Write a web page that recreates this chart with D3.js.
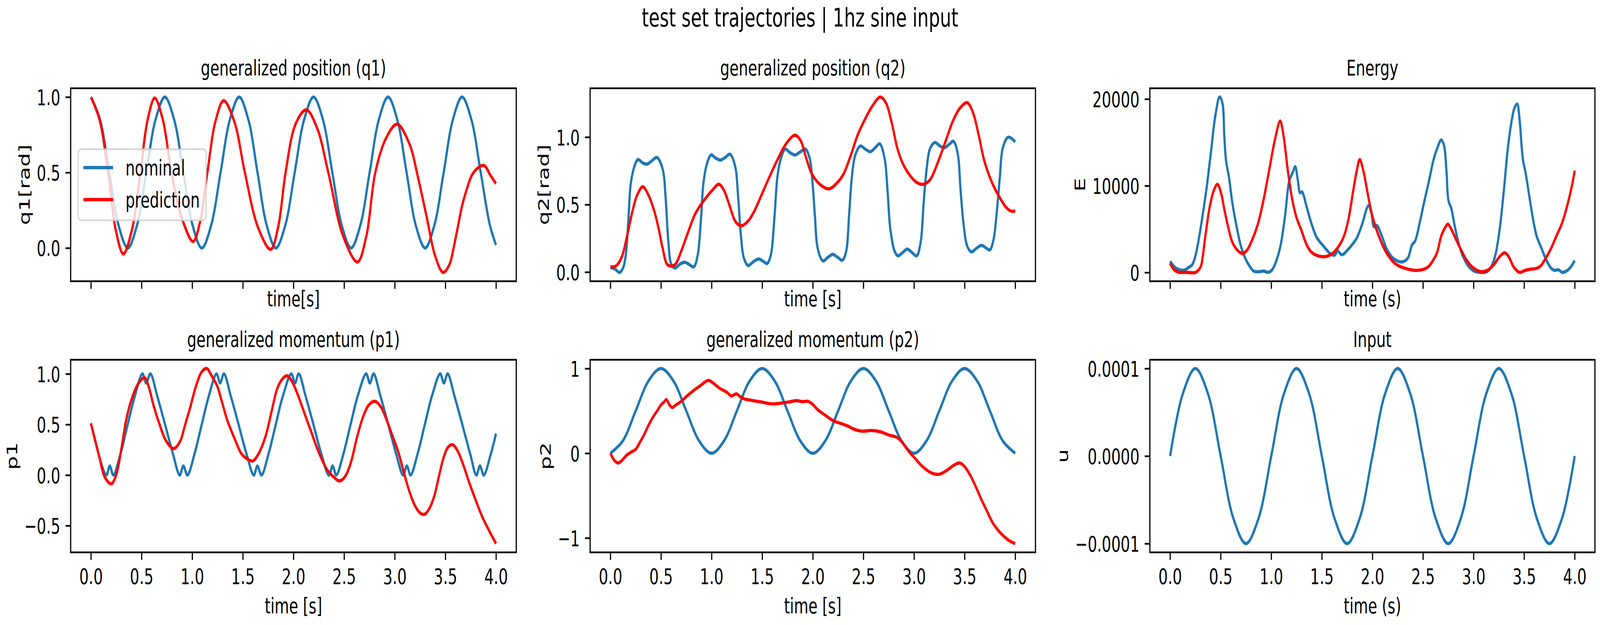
<!DOCTYPE html>
<html>
<head>
<meta charset="utf-8">
<script src="https://cdn.jsdelivr.net/npm/d3@7"></script>
<style>
  html, body { margin: 0; padding: 0; background: #fff; overflow: hidden; }
  text { font-family: "DejaVu Sans", sans-serif; }
</style>
</head>
<body>
<div id="chart"></div>
<script>
// ---- data (time [s], value) ----
const timeTicks = [0, 0.5, 1.0, 1.5, 2.0, 2.5, 3.0, 3.5, 4.0];

const q1Ticks = [0, 0.5, 1.0];
const q2Ticks = [0, 0.5, 1.0];
const eTicks = [0, 10000, 20000];
const p1Ticks = [-0.5, 0, 0.5, 1.0];
const p2Ticks = [-1, 0, 1];
const uTicks = [-0.0001, 0, 0.0001];

const q1Nominal = [[0,1.0],[0.09,0.85],[0.182,0.5],[0.273,0.15],[0.364,0.0],[0.455,0.15],[0.547,0.5],[0.638,0.85],[0.730,1.0],[0.822,0.85],[0.913,0.5],[1.004,0.15],[1.095,0.0],[1.187,0.15],[1.280,0.5],[1.372,0.85],[1.464,1.0],[1.555,0.85],[1.645,0.5],[1.736,0.15],[1.826,0.0],[1.919,0.15],[2.012,0.5],[2.105,0.85],[2.198,1.0],[2.291,0.85],[2.384,0.5],[2.477,0.15],[2.569,0.0],[2.660,0.15],[2.752,0.5],[2.843,0.85],[2.934,1.0],[3.025,0.85],[3.117,0.5],[3.208,0.15],[3.300,0.0],[3.391,0.15],[3.483,0.5],[3.574,0.85],[3.665,1.0],[3.757,0.85],[3.849,0.5],[3.940,0.15],[4.0,0.02]];

const q1Prediction = [[0,1.0],[0.085,0.85],[0.17,0.5],[0.245,0.12],[0.32,-0.039],[0.405,0.12],[0.489,0.5],[0.56,0.85],[0.63,0.993],[0.71,0.85],[0.795,0.5],[0.897,0.2],[1.009,0.043],[1.08,0.18],[1.15,0.5],[1.23,0.84],[1.31,0.976],[1.415,0.84],[1.52,0.5],[1.648,0.14],[1.776,-0.009],[1.849,0.14],[1.922,0.5],[2.02,0.82],[2.128,0.915],[2.236,0.79],[2.344,0.5],[2.49,0.08],[2.633,-0.092],[2.72,0.08],[2.808,0.5],[2.916,0.73],[3.024,0.82],[3.145,0.69],[3.229,0.47],[3.314,0.21],[3.398,-0.05],[3.477,-0.162],[3.54,-0.11],[3.581,0.0],[3.623,0.14],[3.665,0.28],[3.707,0.38],[3.76,0.48],[3.82,0.53],[3.884,0.546],[3.946,0.48],[4.0,0.427]];

const q2Nominal = [[0,0.035],[0.05,0.02],[0.09,-0.003],[0.125,0.03],[0.152,0.126],[0.18,0.415],[0.2,0.646],[0.236,0.78],[0.273,0.834],[0.318,0.81],[0.363,0.80],[0.41,0.825],[0.461,0.849],[0.517,0.762],[0.545,0.56],[0.573,0.223],[0.601,0.059],[0.638,0.03],[0.69,0.06],[0.736,0.073],[0.78,0.055],[0.826,0.04],[0.863,0.126],[0.897,0.415],[0.919,0.656],[0.953,0.80],[0.995,0.868],[1.04,0.845],[1.088,0.83],[1.135,0.85],[1.183,0.873],[1.234,0.78],[1.262,0.56],[1.29,0.27],[1.318,0.107],[1.36,0.049],[1.41,0.075],[1.464,0.097],[1.51,0.08],[1.549,0.064],[1.585,0.126],[1.622,0.415],[1.65,0.704],[1.684,0.84],[1.726,0.911],[1.775,0.885],[1.824,0.868],[1.875,0.89],[1.928,0.911],[1.97,0.84],[1.998,0.656],[2.021,0.415],[2.049,0.174],[2.1,0.083],[2.15,0.11],[2.198,0.131],[2.245,0.11],[2.293,0.088],[2.33,0.155],[2.358,0.415],[2.386,0.704],[2.42,0.868],[2.47,0.934],[2.52,0.91],[2.569,0.892],[2.615,0.92],[2.662,0.95],[2.71,0.84],[2.738,0.608],[2.766,0.319],[2.808,0.155],[2.842,0.121],[2.888,0.145],[2.934,0.17],[2.98,0.145],[3.027,0.121],[3.066,0.223],[3.095,0.512],[3.123,0.752],[3.159,0.916],[3.207,0.96],[3.255,0.935],[3.30,0.921],[3.345,0.945],[3.39,0.969],[3.432,0.878],[3.46,0.608],[3.488,0.367],[3.525,0.194],[3.567,0.15],[3.615,0.175],[3.665,0.198],[3.71,0.18],[3.75,0.165],[3.786,0.242],[3.82,0.463],[3.848,0.704],[3.876,0.916],[3.926,0.998],[3.965,0.99],[4.0,0.964]];

const q2Prediction = [[0,0.04],[0.053,0.044],[0.11,0.107],[0.166,0.271],[0.222,0.463],[0.264,0.569],[0.32,0.632],[0.377,0.569],[0.433,0.454],[0.475,0.329],[0.517,0.174],[0.559,0.059],[0.601,0.044],[0.644,0.059],[0.70,0.155],[0.77,0.30],[0.84,0.434],[0.925,0.531],[1.009,0.608],[1.071,0.651],[1.121,0.608],[1.178,0.492],[1.234,0.377],[1.29,0.343],[1.36,0.377],[1.417,0.444],[1.487,0.56],[1.571,0.704],[1.655,0.839],[1.74,0.955],[1.824,1.014],[1.88,0.974],[1.937,0.839],[1.993,0.724],[2.077,0.646],[2.161,0.617],[2.246,0.666],[2.302,0.724],[2.372,0.858],[2.442,1.013],[2.513,1.128],[2.583,1.224],[2.667,1.297],[2.723,1.253],[2.779,1.109],[2.836,0.916],[2.892,0.80],[2.962,0.714],[3.033,0.661],[3.095,0.651],[3.159,0.685],[3.229,0.80],[3.314,0.974],[3.384,1.119],[3.454,1.215],[3.525,1.255],[3.581,1.186],[3.637,1.022],[3.693,0.829],[3.764,0.675],[3.848,0.55],[3.918,0.473],[3.97,0.45],[4.0,0.454]];

const eNominal = [[0,1293],[0.053,541],[0.11,271],[0.152,316],[0.186,617],[0.216,842],[0.245,1669],[0.278,3474],[0.32,6481],[0.363,9940],[0.405,14000],[0.447,18060],[0.489,20230],[0.517,19564],[0.537,15500],[0.554,12797],[0.582,10992],[0.616,7985],[0.658,5278],[0.70,3023],[0.742,1669],[0.784,767],[0.826,165],[0.883,90],[0.925,165],[0.967,15],[1.009,316],[1.051,1368],[1.093,3173],[1.136,6481],[1.178,10541],[1.214,11594],[1.237,12195],[1.262,10692],[1.284,9188],[1.304,9300],[1.351,7533],[1.395,5729],[1.448,4073],[1.518,3022],[1.597,2045],[1.632,2045],[1.654,2496],[1.698,2045],[1.764,2720],[1.843,3924],[1.895,5427],[1.961,7700],[1.992,6780],[2.014,5278],[2.044,5427],[2.088,4375],[2.141,2720],[2.202,1669],[2.29,1218],[2.351,1669],[2.391,3171],[2.422,3622],[2.465,5578],[2.509,7984],[2.562,10690],[2.60,12800],[2.64,14300],[2.681,15278],[2.709,14602],[2.732,11744],[2.752,8286],[2.78,7383],[2.808,5729],[2.85,3474],[2.892,1970],[2.948,767],[3.005,165],[3.075,0],[3.131,90],[3.173,617],[3.215,1970],[3.258,4977],[3.30,9489],[3.336,14000],[3.37,17008],[3.404,18962],[3.432,19414],[3.454,17759],[3.477,14301],[3.491,12797],[3.513,11594],[3.542,9489],[3.583,6481],[3.623,4226],[3.674,2722],[3.722,1368],[3.769,466],[3.806,241],[3.839,316],[3.876,15],[3.918,165],[3.96,617],[4.0,1368]];

const ePrediction = [[0,1068],[0.039,316],[0.082,45],[0.166,15],[0.25,0],[0.284,316],[0.306,767],[0.349,4226],[0.391,7534],[0.433,9489],[0.469,10165],[0.503,9188],[0.537,7233],[0.573,5278],[0.616,3474],[0.672,2496],[0.714,2195],[0.756,2496],[0.812,3774],[0.868,5579],[0.925,8436],[0.981,11895],[1.037,15353],[1.088,17459],[1.121,15805],[1.164,11744],[1.206,8500],[1.248,6400],[1.299,4826],[1.351,3171],[1.404,2269],[1.509,1818],[1.597,2120],[1.667,3022],[1.72,4226],[1.764,6179],[1.807,9188],[1.843,11592],[1.875,13023],[1.913,11592],[1.957,8886],[2.0,6480],[2.053,4524],[2.132,2422],[2.22,1069],[2.307,541],[2.439,239],[2.527,465],[2.562,767],[2.60,1400],[2.639,2271],[2.681,4226],[2.724,5278],[2.746,5579],[2.774,5128],[2.822,3925],[2.878,2571],[2.934,1368],[3.005,466],[3.075,90],[3.146,316],[3.202,917],[3.258,1820],[3.308,2271],[3.347,1820],[3.398,617],[3.454,15],[3.51,241],[3.567,391],[3.623,466],[3.665,767],[3.707,1519],[3.764,2722],[3.82,4226],[3.876,5729],[3.932,7985],[3.974,10090],[4.0,11744]];

const p1Nominal = [[0,0.512],[0.05,0.31],[0.1,0.12],[0.152,0.0],[0.186,0.09],[0.222,0.0],[0.292,0.21],[0.363,0.5],[0.433,0.78],[0.509,1.0],[0.545,0.91],[0.587,1.0],[0.655,0.78],[0.732,0.5],[0.81,0.21],[0.877,0.0],[0.913,0.09],[0.953,0.0],[1.023,0.21],[1.094,0.5],[1.164,0.78],[1.24,1.0],[1.276,0.91],[1.313,1.0],[1.381,0.78],[1.458,0.5],[1.536,0.21],[1.608,0.0],[1.644,0.09],[1.684,0.0],[1.754,0.21],[1.825,0.5],[1.895,0.78],[1.979,1.0],[2.015,0.91],[2.052,1.0],[2.12,0.78],[2.197,0.5],[2.275,0.21],[2.35,0.0],[2.386,0.09],[2.423,0.0],[2.493,0.21],[2.564,0.5],[2.634,0.78],[2.718,1.0],[2.754,0.91],[2.791,1.0],[2.859,0.78],[2.936,0.5],[3.014,0.21],[3.083,0.0],[3.12,0.09],[3.156,0.0],[3.226,0.21],[3.297,0.5],[3.367,0.78],[3.449,1.0],[3.485,0.91],[3.522,1.0],[3.59,0.78],[3.667,0.5],[3.745,0.21],[3.806,0.0],[3.842,0.09],[3.879,0.0],[3.949,0.21],[4.0,0.41]];

const p1Prediction = [[0,0.512],[0.04,0.35],[0.082,0.184],[0.138,-0.022],[0.202,-0.086],[0.25,0.004],[0.301,0.261],[0.349,0.55],[0.405,0.76],[0.475,0.916],[0.531,0.961],[0.573,0.865],[0.616,0.698],[0.672,0.518],[0.742,0.338],[0.818,0.261],[0.883,0.338],[0.925,0.479],[0.981,0.672],[1.037,0.878],[1.093,1.019],[1.144,1.053],[1.192,0.981],[1.248,0.878],[1.29,0.737],[1.346,0.544],[1.417,0.364],[1.487,0.21],[1.557,0.152],[1.599,0.139],[1.655,0.21],[1.726,0.389],[1.782,0.621],[1.839,0.852],[1.895,0.955],[1.937,0.981],[1.979,0.936],[2.035,0.814],[2.105,0.621],[2.175,0.428],[2.246,0.235],[2.33,0.055],[2.4,-0.022],[2.456,-0.058],[2.513,-0.009],[2.569,0.132],[2.625,0.364],[2.681,0.557],[2.738,0.685],[2.802,0.73],[2.864,0.672],[2.92,0.544],[2.977,0.389],[3.033,0.235],[3.089,0.03],[3.145,-0.163],[3.201,-0.305],[3.252,-0.375],[3.294,-0.388],[3.342,-0.33],[3.392,-0.202],[3.44,0.004],[3.482,0.171],[3.525,0.274],[3.572,0.3],[3.623,0.235],[3.679,0.094],[3.735,-0.073],[3.792,-0.228],[3.862,-0.407],[3.932,-0.549],[4.0,-0.677]];

const p2Nominal = [[0,0],[0.125,0.15],[0.25,0.5],[0.375,0.85],[0.5,1.0],[0.625,0.85],[0.75,0.5],[0.875,0.15],[1.0,0],[1.125,0.15],[1.25,0.5],[1.375,0.85],[1.5,1.0],[1.625,0.85],[1.75,0.5],[1.875,0.15],[2.0,0],[2.125,0.15],[2.25,0.5],[2.375,0.85],[2.5,1.0],[2.625,0.85],[2.75,0.5],[2.875,0.15],[3.0,0],[3.125,0.15],[3.25,0.5],[3.375,0.85],[3.5,1.0],[3.625,0.85],[3.75,0.5],[3.875,0.15],[4.0,0]];

const p2Prediction = [[0,0],[0.039,-0.084],[0.076,-0.115],[0.115,-0.084],[0.16,-0.023],[0.208,0.015],[0.25,0.046],[0.292,0.13],[0.334,0.222],[0.377,0.33],[0.419,0.422],[0.461,0.498],[0.503,0.575],[0.531,0.606],[0.554,0.633],[0.582,0.575],[0.61,0.54],[0.644,0.567],[0.70,0.613],[0.756,0.675],[0.826,0.744],[0.897,0.805],[0.939,0.844],[0.975,0.859],[1.023,0.821],[1.079,0.767],[1.149,0.721],[1.197,0.675],[1.22,0.69],[1.248,0.701],[1.276,0.675],[1.318,0.644],[1.388,0.626],[1.487,0.606],[1.599,0.583],[1.698,0.594],[1.768,0.606],[1.838,0.621],[1.895,0.609],[1.951,0.613],[1.993,0.583],[2.049,0.514],[2.119,0.452],[2.204,0.383],[2.274,0.353],[2.344,0.322],[2.414,0.281],[2.485,0.261],[2.583,0.268],[2.667,0.253],[2.752,0.215],[2.836,0.184],[2.892,0.115],[2.948,0.023],[3.005,-0.054],[3.075,-0.146],[3.146,-0.215],[3.202,-0.245],[3.258,-0.245],[3.328,-0.199],[3.398,-0.138],[3.454,-0.115],[3.497,-0.153],[3.553,-0.253],[3.609,-0.391],[3.665,-0.544],[3.721,-0.683],[3.778,-0.821],[3.834,-0.913],[3.89,-0.982],[3.946,-1.035],[4.0,-1.066]];

const uInput = [[0,0],[0.125,7.1e-5],[0.25,1.0e-4],[0.375,7.1e-5],[0.5,0],[0.625,-7.1e-5],[0.75,-1.0e-4],[0.875,-7.1e-5],[1.0,0],[1.125,7.1e-5],[1.25,1.0e-4],[1.375,7.1e-5],[1.5,0],[1.625,-7.1e-5],[1.75,-1.0e-4],[1.875,-7.1e-5],[2.0,0],[2.125,7.1e-5],[2.25,1.0e-4],[2.375,7.1e-5],[2.5,0],[2.625,-7.1e-5],[2.75,-1.0e-4],[2.875,-7.1e-5],[3.0,0],[3.125,7.1e-5],[3.25,1.0e-4],[3.375,7.1e-5],[3.5,0],[3.625,-7.1e-5],[3.75,-1.0e-4],[3.875,-7.1e-5],[4.0,0]];

// ---- figure setup (matplotlib look at 400 dpi, in a 6000x1600 frame) ----
const width = 6000;
const height = 1600;
const FS = 55.6;          // 10pt
const TICK = 19.4;        // 3.5pt
const LW_AXIS = 4.44;     // 0.8pt
const LW_LINE = 8.33;     // 1.5pt
const BLUE = "#1f77b4";
const RED = "#ff0000";

const cols = [[265, 1936], [2213, 3883], [4312, 5981]];
const rows = [[226, 720], [921, 1414]];

const panels = [
  { row: 0, col: 0, title: "generalized position (q1)", ylabel: "q1[rad]", xlabel: "time[s]",
    yTicks: q1Ticks, fmt: ".1f", series: [q1Nominal, q1Prediction], legend: true },
  { row: 0, col: 1, title: "generalized position (q2)", ylabel: "q2[rad]", xlabel: "time [s]",
    yTicks: q2Ticks, fmt: ".1f", series: [q2Nominal, q2Prediction] },
  { row: 0, col: 2, title: "Energy", ylabel: "E", xlabel: "time (s)",
    yTicks: eTicks, fmt: "d", series: [eNominal, ePrediction] },
  { row: 1, col: 0, title: "generalized momentum (p1)", ylabel: "p1", xlabel: "time [s]",
    yTicks: p1Ticks, fmt: ".1f", series: [p1Nominal, p1Prediction] },
  { row: 1, col: 1, title: "generalized momentum (p2)", ylabel: "p2", xlabel: "time [s]",
    yTicks: p2Ticks, fmt: "d", series: [p2Nominal, p2Prediction] },
  { row: 1, col: 2, title: "Input", ylabel: "u", xlabel: "time (s)",
    yTicks: uTicks, fmt: ".4f", series: [uInput] }
];
const seriesColors = [BLUE, RED];
const legendLabels = ["nominal", "prediction"];

// the window may be narrower than 6000px: stretch the 6000x1600 frame over it
const vw = window.innerWidth || width;
const vh = window.innerHeight || height;
const svg = d3.select("#chart").append("svg")
  .attr("viewBox", `0 0 ${width} ${height}`)
  .attr("preserveAspectRatio", "none")
  .attr("width", vw)
  .attr("height", vh)
  .style("display", "block")
  .style("background", "#fff");

svg.append("text")
  .attr("x", width / 2)
  .attr("y", 68)
  .attr("text-anchor", "middle")
  .attr("font-size", 66.7)
  .text("test set trajectories | 1hz sine input");

function padded(lo, hi) {
  const m = (hi - lo) * 0.05;
  return [lo - m, hi + m];
}

panels.forEach((p, i) => {
  const [x0, x1] = cols[p.col];
  const [y0, y1] = rows[p.row];
  const w = x1 - x0, h = y1 - y0;
  const g = svg.append("g").attr("transform", `translate(${x0},${y0})`);

  const allT = p.series.flatMap(s => s.map(d => d[0]));
  const allV = p.series.flatMap(s => s.map(d => d[1]));
  const x = d3.scaleLinear().domain(padded(...d3.extent(allT))).range([0, w]);
  const y = d3.scaleLinear().domain(padded(...d3.extent(allV))).range([h, 0]);

  g.append("clipPath").attr("id", "clip" + i)
    .append("rect").attr("width", w).attr("height", h);

  const line = d3.line()
    .x(d => x(d[0]))
    .y(d => y(d[1]))
    .curve(d3.curveCatmullRom.alpha(0.5));

  const plot = g.append("g").attr("clip-path", `url(#clip${i})`);
  p.series.forEach((s, k) => {
    plot.append("path")
      .datum(s)
      .attr("fill", "none")
      .attr("stroke", seriesColors[k])
      .attr("stroke-width", LW_LINE)
      .attr("stroke-linejoin", "round")
      .attr("stroke-linecap", "butt")
      .attr("d", line);
  });

  // spines
  g.append("rect")
    .attr("width", w).attr("height", h)
    .attr("fill", "none")
    .attr("stroke", "#000")
    .attr("stroke-width", LW_AXIS);

  // x axis
  const xAxis = d3.axisBottom(x)
    .tickValues(timeTicks)
    .tickSize(TICK)
    .tickPadding(TICK)
    .tickFormat(p.row === 1 ? d3.format(".1f") : () => "");
  const xg = g.append("g")
    .attr("transform", `translate(0,${h})`)
    .call(xAxis)
    .attr("font-size", FS)
    .attr("font-family", "DejaVu Sans");
  xg.select(".domain").remove();
  xg.selectAll(".tick line").attr("stroke-width", LW_AXIS);
  xg.selectAll(".tick text").attr("dy", "0.76em");

  // y axis
  const yAxis = d3.axisLeft(y)
    .tickValues(p.yTicks)
    .tickSize(TICK)
    .tickPadding(TICK)
    .tickFormat(d3.format(p.fmt));
  const yg = g.append("g")
    .call(yAxis)
    .attr("font-size", FS)
    .attr("font-family", "DejaVu Sans");
  yg.select(".domain").remove();
  yg.selectAll(".tick line").attr("stroke-width", LW_AXIS);
  yg.selectAll(".tick text").attr("dy", "0.36em");

  const yb = yg.node().getBBox();
  g.append("text")
    .attr("transform", `translate(${yb.x - 27},${h / 2}) rotate(-90)`)
    .attr("text-anchor", "middle")
    .attr("font-size", FS)
    .text(p.ylabel);

  // x label
  g.append("text")
    .attr("x", w / 2)
    .attr("y", p.row === 1 ? h + 156 : h + 64)
    .attr("text-anchor", "middle")
    .attr("font-size", FS)
    .text(p.xlabel);

  // title
  g.append("text")
    .attr("x", w / 2)
    .attr("y", -33)
    .attr("text-anchor", "middle")
    .attr("font-size", FS)
    .text(p.title);

  if (p.legend) {
    const lw = 480, lh = 182;
    const lx = 0.5 * FS, ly = h / 2 - lh / 2;
    const lg = g.append("g").attr("transform", `translate(${lx},${ly})`);
    lg.append("rect")
      .attr("width", lw).attr("height", lh)
      .attr("rx", 11).attr("ry", 11)
      .attr("fill", "#fff").attr("fill-opacity", 0.8)
      .attr("stroke", "#cccccc").attr("stroke-opacity", 0.8)
      .attr("stroke-width", LW_AXIS);
    legendLabels.forEach((lab, k) => {
      const cy = 47 + k * 82;
      lg.append("line")
        .attr("x1", 20).attr("x2", 20 + 2 * FS)
        .attr("y1", cy).attr("y2", cy)
        .attr("stroke", seriesColors[k])
        .attr("stroke-width", LW_LINE);
      lg.append("text")
        .attr("x", 22 + 2 * FS + 0.8 * FS)
        .attr("y", cy)
        .attr("dy", "0.36em")
        .attr("font-size", FS)
        .text(lab);
    });
  }
});
</script>
</body>
</html>
